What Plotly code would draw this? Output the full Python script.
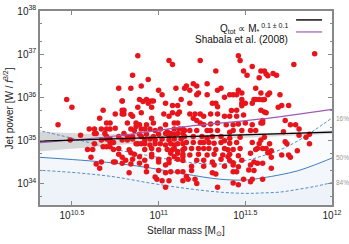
import numpy as np
import plotly.graph_objects as go

# galaxies: log10 stellar mass [Msun] and log10 jet power
mass_a = [10.88, 11.06, 11.08, 10.85, 10.94, 10.77, 10.84, 10.90, 11.00, 11.02,
          11.10, 11.15, 10.47, 10.79, 10.89, 10.93, 10.96, 10.94, 11.04, 11.13,
          11.08, 11.11, 10.50, 11.90, 11.24, 11.46, 11.47, 11.78, 11.33, 11.54,
          11.49, 11.51, 11.59, 11.61, 11.62, 11.63, 11.66, 11.68, 11.58, 11.16,
          11.20, 11.22, 11.18, 11.23, 11.22, 11.28, 11.28, 11.34, 11.36, 11.38,
          11.41, 11.43, 11.45, 11.46, 11.48, 11.56, 11.59, 11.64, 11.63, 11.70,
          11.61, 11.55, 11.56, 11.58, 11.48, 11.18, 11.31, 11.33, 11.48, 11.50,
          11.54, 11.71, 11.75]
power_a = [36.96, 36.85, 36.76, 36.51, 36.41, 36.21, 36.21, 36.26, 36.16, 36.06,
           36.21, 36.21, 35.95, 35.91, 35.95, 35.95, 35.91, 35.86, 35.86, 35.95,
           35.81, 35.81, 35.77, 37.01, 36.85, 36.96, 36.85, 36.76, 36.61, 36.71,
           36.61, 36.51, 36.61, 36.61, 36.54, 36.50, 36.55, 36.51, 36.45, 36.26,
           36.31, 36.26, 36.16, 36.10, 36.06, 36.31, 36.06, 36.16, 36.21, 36.00,
           36.06, 36.06, 36.06, 36.16, 36.10, 36.21, 36.10, 36.10, 36.06, 36.06,
           35.95, 35.95, 35.95, 35.95, 35.95, 35.86, 35.86, 35.86, 35.86, 35.86,
           35.86, 35.81, 35.81]

mass_b = [10.70, 10.72, 10.68, 10.66, 10.42, 10.60, 10.63, 10.67, 10.70, 10.72,
          10.63, 10.64, 10.69, 10.55, 10.70, 10.71, 10.72, 10.72, 10.74, 10.70,
          10.49, 10.67, 10.63, 10.62, 10.59, 10.68, 10.70, 10.72, 10.74, 10.61,
          10.64, 10.67, 10.74, 10.66, 10.98]
power_b = [35.40, 35.40, 35.70, 35.51, 35.36, 35.26, 35.26, 35.26, 35.26, 35.26,
           35.16, 35.16, 35.16, 35.12, 35.09, 35.03, 35.03, 34.95, 34.95, 35.03,
           35.01, 35.01, 34.92, 34.79, 34.79, 34.85, 34.85, 34.85, 34.79, 34.61,
           34.45, 34.50, 34.50, 34.35, 34.15]

mass_c = [10.79, 10.88, 10.91, 10.94, 10.97, 10.96, 10.75, 10.79, 10.80, 10.79,
          10.80, 10.84, 10.85, 10.90, 10.96, 11.03, 11.06, 11.08, 11.11, 11.12,
          10.97, 11.04, 10.82, 10.87, 10.89, 10.93, 10.87, 11.09, 11.11, 10.75,
          10.84, 10.86, 10.90, 10.92, 10.95, 10.98, 11.01, 11.05, 11.09, 11.12,
          11.14, 10.77, 10.80, 10.82, 10.85, 10.89, 10.90, 10.93, 10.97, 11.00,
          11.04, 11.06, 11.07, 11.09, 11.11, 11.14, 10.79, 10.82, 10.85, 10.92,
          10.95, 10.98, 11.02, 11.06, 11.09, 11.13, 10.87, 10.88, 10.90, 10.92,
          10.95, 10.98, 11.01, 11.04, 11.07, 11.09, 11.11, 11.14, 10.77, 10.83,
          10.92, 10.96, 11.00, 11.05, 11.08, 11.09, 11.11, 11.14, 10.77, 10.84,
          10.86, 10.96, 11.07, 11.11, 11.14, 11.14, 11.09, 10.79, 10.81, 10.85,
          10.89, 10.92, 10.96, 11.00, 11.06, 11.11, 11.14, 10.75, 10.79, 10.84,
          10.89, 10.93, 11.00, 11.04, 11.06, 10.83, 10.93, 11.00, 11.04, 11.07,
          11.11, 11.14, 10.99, 11.02, 11.06, 11.14, 11.04]
power_c = [35.91, 35.77, 35.90, 35.91, 35.91, 35.77, 35.61, 35.70, 35.70, 35.61,
           35.61, 35.60, 35.56, 35.64, 35.51, 35.61, 35.56, 35.64, 35.61, 35.66,
           35.40, 35.36, 35.40, 35.40, 35.36, 35.36, 35.32, 35.40, 35.40, 35.28,
           35.26, 35.23, 35.26, 35.26, 35.26, 35.23, 35.26, 35.20, 35.26, 35.26,
           35.26, 35.09, 35.16, 35.09, 35.09, 35.14, 35.09, 35.14, 35.09, 35.14,
           35.16, 35.09, 35.16, 35.14, 35.16, 35.16, 35.01, 35.01, 35.03, 35.01,
           35.03, 35.01, 35.03, 35.01, 35.03, 35.03, 34.92, 34.92, 34.92, 34.92,
           34.89, 34.92, 34.92, 34.89, 34.92, 34.89, 34.92, 34.92, 34.81, 34.78,
           34.79, 34.81, 34.78, 34.79, 34.78, 34.81, 34.74, 34.78, 34.68, 34.71,
           34.68, 34.68, 34.70, 34.70, 34.68, 34.62, 34.62, 34.61, 34.54, 34.56,
           34.62, 34.54, 34.62, 34.56, 34.56, 34.56, 34.53, 34.50, 34.47, 34.45,
           34.47, 34.40, 34.50, 34.43, 34.48, 34.25, 34.27, 34.30, 34.25, 34.27,
           34.27, 34.27, 34.10, 34.06, 34.06, 34.06, 33.91]

mass_d = [11.34, 11.42, 11.45, 11.48, 11.18, 11.21, 11.24, 11.26, 11.30, 11.34,
          11.38, 11.41, 11.45, 11.49, 11.20, 11.22, 11.24, 11.26, 11.30, 11.34,
          11.39, 11.43, 11.46, 11.54, 11.50, 11.15, 11.18, 11.22, 11.28, 11.30,
          11.34, 11.41, 11.43, 11.48, 11.53, 11.56, 11.15, 11.20, 11.25, 11.28,
          11.31, 11.36, 11.41, 11.47, 11.16, 11.20, 11.24, 11.26, 11.29, 11.32,
          11.36, 11.38, 11.41, 11.45, 11.54, 11.15, 11.19, 11.23, 11.26, 11.29,
          11.33, 11.38, 11.40, 11.43, 11.47, 11.56, 11.18, 11.23, 11.28, 11.32,
          11.37, 11.40, 11.41, 11.46, 11.53, 11.22, 11.26, 11.31, 11.36, 11.41,
          11.43, 11.48, 11.55, 11.19, 11.26, 11.32, 11.38, 11.43, 11.46, 11.53,
          11.19, 11.31, 11.33, 11.43, 11.45, 11.52, 11.55, 11.16, 11.21, 11.49,
          11.53, 11.22, 11.46, 11.34, 11.54, 11.43, 11.17]
power_d = [35.78, 35.69, 35.70, 35.80, 35.61, 35.61, 35.61, 35.56, 35.61, 35.61,
           35.56, 35.56, 35.56, 35.59, 35.51, 35.46, 35.40, 35.36, 35.38, 35.40,
           35.36, 35.36, 35.38, 35.36, 35.40, 35.23, 35.23, 35.23, 35.23, 35.23,
           35.23, 35.19, 35.23, 35.23, 35.23, 35.23, 35.09, 35.09, 35.09, 35.05,
           35.09, 35.09, 35.05, 35.07, 34.95, 34.95, 34.95, 34.95, 34.95, 34.93,
           34.95, 34.99, 34.93, 34.95, 34.95, 34.81, 34.81, 34.81, 34.81, 34.81,
           34.79, 34.81, 34.78, 34.79, 34.81, 34.79, 34.66, 34.68, 34.66, 34.68,
           34.66, 34.62, 34.68, 34.64, 34.70, 34.54, 34.54, 34.50, 34.56, 34.53,
           34.48, 34.54, 34.50, 34.40, 34.40, 34.43, 34.40, 34.43, 34.39, 34.43,
           34.30, 34.25, 34.22, 34.27, 34.27, 34.31, 34.30, 34.16, 34.10, 34.10,
           34.04, 34.00, 33.97, 33.91, 34.10, 34.01, 34.10]

mass_e = [11.60, 11.69, 11.59, 11.61, 11.62, 11.59, 11.60, 11.60, 11.73, 11.76,
          11.79, 11.81, 11.72, 11.59, 11.61, 11.64, 11.58, 11.57, 11.60, 11.62,
          11.63, 11.64, 11.65, 11.65, 11.57, 11.60, 11.65, 11.73, 11.74, 11.71,
          11.75, 11.76, 11.80, 11.81, 11.85, 11.87, 11.87, 11.60]
power_e = [35.94, 35.77, 35.70, 35.66, 35.64, 35.40, 35.40, 35.46, 35.46, 35.36,
           35.36, 35.26, 35.20, 35.01, 35.07, 34.92, 34.92, 34.81, 34.81, 34.81,
           34.71, 34.71, 34.76, 34.61, 34.47, 34.47, 34.35, 34.97, 34.92, 34.66,
           34.66, 34.61, 34.76, 35.12, 35.07, 35.14, 34.92, 34.10]

# fitted relation and its uncertainty band (log10)
fit_mass = [10.3, 12.0]
fit_power = [34.98, 35.19]
band_mass = [10.3, 10.6, 10.9, 11.2, 11.5, 11.8, 12.0]
band_upper = [35.20, 35.15, 35.13, 35.13, 35.16, 35.19, 35.23]
band_lower = [34.74, 34.84, 34.93, 35.00, 35.06, 35.12, 35.15]

# Shabala et al. (2008)
shabala_mass = [10.3, 10.75, 11.16, 11.58, 12.0]
shabala_power = [34.94, 35.10, 35.32, 35.49, 35.72]

# detection-limit percentiles
pct_mass = [10.3, 10.55, 10.75, 10.95, 11.15, 11.35, 11.5, 11.6, 11.7, 11.8, 11.9, 12.0]
pct16 = [35.24, 35.00, 34.79, 34.64, 34.50, 34.45, 34.53, 34.64, 34.78, 34.98, 35.24, 35.52]
pct50 = [34.61, 34.54, 34.47, 34.36, 34.22, 34.10, 34.08, 34.13, 34.20, 34.29, 34.43, 34.59]
pct84 = [34.31, 34.24, 34.15, 34.01, 33.89, 33.80, 33.77, 33.78, 33.80, 33.86, 33.93, 34.02]

x_range = [10.316, 12.0]
y_range = [33.5, 38.0]

def p10(v):
    return np.power(10.0, np.array(v))

all_mass = mass_a + mass_b + mass_c + mass_d + mass_e
all_power = power_a + power_b + power_c + power_d + power_e

fig = go.Figure()

floor = [y_range[0] - 0.1] * len(pct_mass)
for pct in [pct16, pct50, pct84]:
    fig.add_trace(go.Scatter(x=p10(pct_mass), y=p10(floor), mode='lines',
                             line=dict(width=0), showlegend=False, hoverinfo='skip'))
    fig.add_trace(go.Scatter(x=p10(pct_mass), y=p10(pct), mode='lines', fill='tonexty',
                             line_shape='spline', fillcolor='rgba(90,140,205,0.035)',
                             line=dict(width=0), showlegend=False, hoverinfo='skip'))

# grey band
fig.add_trace(go.Scatter(x=p10(band_mass), y=p10(band_lower), mode='lines',
                         line=dict(width=0), showlegend=False))
fig.add_trace(go.Scatter(x=p10(band_mass), y=p10(band_upper), mode='lines', fill='tonexty',
                         fillcolor='rgba(160,160,160,0.4)', line=dict(width=0), showlegend=False))

blue = '#3f7fc0'
fig.add_trace(go.Scatter(x=p10(pct_mass), y=p10(pct16), mode='lines', line_shape='spline',
                         line=dict(color=blue, width=0.9, dash='3px,2px'), showlegend=False))
fig.add_trace(go.Scatter(x=p10(pct_mass), y=p10(pct50), mode='lines', line_shape='spline',
                         line=dict(color=blue, width=1.0), showlegend=False))
fig.add_trace(go.Scatter(x=p10(pct_mass), y=p10(pct84), mode='lines', line_shape='spline',
                         line=dict(color=blue, width=0.9, dash='3px,2px'), showlegend=False))

fig.add_trace(go.Scatter(x=p10(all_mass), y=p10(all_power), mode='markers',
                         marker=dict(color='#e8141c', size=5.5, line=dict(width=0)),
                         showlegend=False))

fig.add_trace(go.Scatter(x=p10(shabala_mass), y=p10(shabala_power), mode='lines',
                         line_shape='spline', line=dict(color='#a05ab4', width=1.2),
                         showlegend=False))
fig.add_trace(go.Scatter(x=p10(fit_mass), y=p10(fit_power), mode='lines',
                         line=dict(color='black', width=1.4), showlegend=False))

font = 'Liberation Sans, Arial, sans-serif'
axis_style = dict(type='log', showline=True, linecolor='#888', linewidth=1.5,
                  mirror='ticks', ticks='inside', tickcolor='#888', ticklen=4,
                  showgrid=False, zeroline=False, automargin=False,
                  tickfont=dict(family=font, size=10, color='#222'))

x_ticks = [10.5, 11.0, 11.5, 12.0]
x_labels = ['10<sup>10.5</sup>', '10<sup>11</sup>', '10<sup>11.5</sup>', '10<sup>12</sup>']
y_ticks = [34, 35, 36, 37, 38]
y_labels = ['10<sup>%d</sup>' % t for t in y_ticks]

fig.update_xaxes(range=x_range, tickvals=p10(x_ticks), ticktext=x_labels, **axis_style)
fig.update_yaxes(range=y_range, tickvals=p10(y_ticks), ticktext=y_labels,
                 minor=dict(dtick='D2', ticks='inside', ticklen=2, tickcolor='#888'),
                 **axis_style)

ann = []
for label, val in [('16%', 35.50), ('50%', 34.60), ('84%', 34.03)]:
    ann.append(dict(x=1.008, xref='paper', y=val, yref='y', text=label, showarrow=False,
                    xanchor='left', font=dict(family=font, size=6.5, color='#999')))
ann.append(dict(x=0.856, y=0.955, xref='paper', yref='paper', xanchor='right',
                text='Q<sub>tot</sub> \u221d M<sub>*</sub><sup> 0.1 \u00b1 0.1</sup>',
                showarrow=False, font=dict(family=font, size=10, color='#111')))
ann.append(dict(x=0.856, y=0.892, xref='paper', yref='paper', xanchor='right',
                text='Shabala et al. (2008)', showarrow=False,
                font=dict(family=font, size=10, color='#111')))
ann.append(dict(x=0.5, y=-0.135, xref='paper', yref='paper', xanchor='center',
                yanchor='middle', text='Stellar mass [M<sub>\u2299</sub>]', showarrow=False,
                font=dict(family=font, size=10, color='#222')))
ann.append(dict(x=-0.108, y=0.5, xref='paper', yref='paper', textangle=-90,
                xanchor='center', yanchor='middle',
                text='Jet power [W / <i>f</i><sup>3/2</sup>]', showarrow=False,
                font=dict(family=font, size=10, color='#222')))

shapes = [
    dict(type='line', xref='paper', yref='paper', x0=0.877, x1=0.966, y0=0.954, y1=0.954,
         line=dict(color='black', width=1.4)),
    dict(type='line', xref='paper', yref='paper', x0=0.877, x1=0.966, y0=0.892, y1=0.892,
         line=dict(color='#a05ab4', width=1.2)),
]

fig.update_layout(width=349, height=244, autosize=False,
                  margin=dict(l=40, r=17, t=11, b=39),
                  plot_bgcolor='white', paper_bgcolor='white',
                  annotations=ann, shapes=shapes,
                  font=dict(family=font))

fig.write_html("out.html", config={'displayModeBar': False},
               post_script="document.body.style.margin='0';document.body.style.overflow='hidden';")
